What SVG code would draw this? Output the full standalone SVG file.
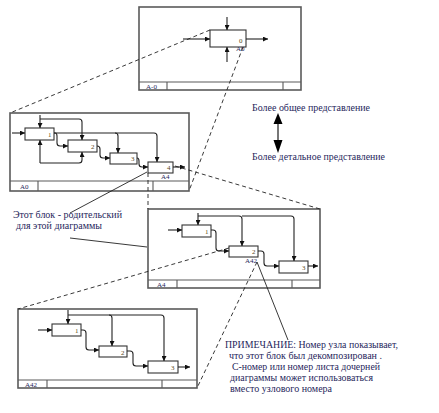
<svg xmlns="http://www.w3.org/2000/svg" width="439" height="413" viewBox="0 0 439 413">
<style>
.frame{fill:none;stroke:#5a5a5a;stroke-width:1.6}
.strip{fill:none;stroke:#5a5a5a;stroke-width:1.1}
.box{fill:#fff;stroke:#333;stroke-width:1.1}
.c{fill:none;stroke:#222;stroke-width:1.1}
.dash{fill:none;stroke:#222;stroke-width:0.9;stroke-dasharray:4 3}
.sol{fill:none;stroke:#222;stroke-width:0.9}
.t{font-family:"Liberation Serif",serif;fill:#1f1f5c}
.num{font-family:"Liberation Serif",serif;font-size:7px;fill:#5a4a20}
.lab{font-family:"Liberation Serif",serif;font-size:7px;fill:#1f1f5c}
</style>
<defs>
<marker id="ah" viewBox="0 0 10 10" refX="10" refY="5" markerWidth="6" markerHeight="5" markerUnits="userSpaceOnUse" orient="auto"><path d="M0,0 L10,5 L0,10 z" fill="#111"/></marker>
</defs>
<rect width="439" height="413" fill="#fff"/>

<g id="frameA-0">
<rect class="frame" x="139" y="7" width="162" height="83"/>
<path class="strip" d="M139,82 H301 M167,82 V90 M283,82 V90"/>
<text class="lab" x="146" y="88.5">A-0</text>
</g>
<g id="nodeA-0-0">
<rect class="box" x="210" y="30" width="36" height="17"/>
<text class="num" x="239" y="43" fill="#b07020">0</text>
<text class="lab" x="236" y="51">A0</text>
</g>

<g id="frameA0">
<rect class="frame" x="10" y="113" width="179" height="78"/>
<path class="strip" d="M10,181 H189 M38,181 V191 M153,181 V191"/>
<text class="lab" x="20" y="189">A0</text>
</g>
<g id="A0-1"><rect class="box" x="25" y="128" width="29" height="12"/><text class="num" x="48" y="137">1</text></g>
<g id="A0-2"><rect class="box" x="68" y="140" width="29" height="12"/><text class="num" x="91" y="149">2</text></g>
<g id="A0-3"><rect class="box" x="110" y="153" width="27" height="11"/><text class="num" x="131" y="161">3</text></g>
<g id="A0-4"><rect class="box" x="148" y="162" width="25" height="11"/><text class="num" x="167" y="170">4</text><text class="lab" x="161" y="179">A4</text></g>

<g id="frameA4">
<rect class="frame" x="148" y="209" width="172" height="79"/>
<path class="strip" d="M148,280 H320 M177,280 V288 M292,280 V288"/>
<text class="lab" x="157" y="286.5">A4</text>
</g>
<g id="A4-1"><rect class="box" x="182" y="225" width="29" height="12"/><text class="num" x="205" y="234">1</text></g>
<g id="A4-2"><rect class="box" x="229" y="246" width="29" height="11"/><text class="num" x="252" y="254">2</text><text class="lab" x="245" y="263">A42</text></g>
<g id="A4-3"><rect class="box" x="279" y="261" width="29" height="12"/><text class="num" x="302" y="270">3</text></g>

<g id="frameA42">
<rect class="frame" x="18" y="309" width="179" height="79"/>
<path class="strip" d="M18,380 H197 M47,380 V388 M162,380 V388"/>
<text class="lab" x="25" y="386.5">A42</text>
</g>
<g id="A42-1"><rect class="box" x="52" y="324" width="29" height="12"/><text class="num" x="75" y="333">1</text></g>
<g id="A42-2"><rect class="box" x="99" y="346" width="28" height="11"/><text class="num" x="121" y="355">2</text></g>
<g id="A42-3"><rect class="box" x="148" y="361" width="30" height="12"/><text class="num" x="171" y="370">3</text></g>

<g id="connectors">
<path class="c" d="M227,17 V30" marker-end="url(#ah)"/>
<path class="c" d="M227,62 V47" marker-end="url(#ah)"/>
<path class="c" d="M183,39 H210" marker-end="url(#ah)"/>
<path class="c" d="M246,39 H268" marker-end="url(#ah)"/>
<path class="c" d="M12,133 H25" marker-end="url(#ah)"/>
<path class="c" d="M40,115 V128" marker-end="url(#ah)"/>
<path class="c" d="M40,119 H79 Q82,119 82,122 V140" marker-end="url(#ah)"/>
<path class="c" d="M54,133 H154 Q157,133 157,136 V162" marker-end="url(#ah)"/>
<path class="c" d="M115,133 Q118,133 118,136 V153" marker-end="url(#ah)"/>
<path class="c" d="M54,133 H55 Q57,133 57,136 V143 Q57,146 60,146 H68" marker-end="url(#ah)"/>
<path class="c" d="M97,146 Q100,146 100,149 V155 Q100,158 103,158 H110" marker-end="url(#ah)"/>
<path class="c" d="M137,158 Q139,158 139,161 V164 Q139,167 142,167 H148" marker-end="url(#ah)"/>
<path class="c" d="M173,167 H185" marker-end="url(#ah)"/>
<path class="c" d="M40,163 H79 Q82,163 82,160 V152" marker-end="url(#ah)"/>
<path class="c" d="M40,163 V140" marker-end="url(#ah)"/>
<path class="c" d="M168,230 H182" marker-end="url(#ah)"/>
<path class="c" d="M198,213 V225" marker-end="url(#ah)"/>
<path class="c" d="M198,216 H239 Q242,216 242,219 V246" marker-end="url(#ah)"/>
<path class="c" d="M242,216 H291 Q294,216 294,219 V261" marker-end="url(#ah)"/>
<path class="c" d="M211,230 H213 Q216,230 216,233 V248 Q216,251 219,251 H229" marker-end="url(#ah)"/>
<path class="c" d="M258,251 H261 Q264,251 264,254 V263 Q264,266 267,266 H279" marker-end="url(#ah)"/>
<path class="c" d="M308,266 H318" marker-end="url(#ah)"/>
<path class="c" d="M38,330 H52" marker-end="url(#ah)"/>
<path class="c" d="M68,310 V324" marker-end="url(#ah)"/>
<path class="c" d="M68,315 H161 Q164,315 164,318 V361" marker-end="url(#ah)"/>
<path class="c" d="M109,315 Q112,315 112,318 V346" marker-end="url(#ah)"/>
<path class="c" d="M81,330 H83 Q86,330 86,333 V347 Q86,350 89,350 H99" marker-end="url(#ah)"/>
<path class="c" d="M127,351 H130 Q133,351 133,354 V363 Q133,366 136,366 H148" marker-end="url(#ah)"/>
<path class="c" d="M178,367 H190" marker-end="url(#ah)"/>
<path class="dash" d="M210,30 L10,113"/>
<path class="dash" d="M243,47 L189,191"/>
<path class="dash" d="M148,173 L148,209"/>
<path class="dash" d="M175,166 L320,209"/>
<path class="dash" d="M229,248 L18,309"/>
<path class="dash" d="M257,262 L197,388"/>
<path class="sol" d="M70,213 L147,172"/>
<path class="sol" d="M70,238 L147,247"/>
<path class="sol" d="M257,262 L288,340"/>
</g>

<g id="legend">
<line x1="278" y1="123" x2="278" y2="141" stroke="#777" stroke-width="2"/>
<polygon points="273.5,124 278,113 282.5,124" fill="#000"/>
<polygon points="273.5,140 278,153 282.5,140" fill="#000"/>
<text class="t" x="252" y="111" font-size="9.5" textLength="118" lengthAdjust="spacingAndGlyphs">Более общее представление</text>
<text class="t" x="252" y="160" font-size="9.5" textLength="133" lengthAdjust="spacingAndGlyphs">Более детальное представление</text>
</g>

<g id="note-parent">
<text class="t" x="13" y="218" font-size="9.5" textLength="109" lengthAdjust="spacingAndGlyphs">Этот блок - родительский</text>
<text class="t" x="16" y="229" font-size="9.5" textLength="86" lengthAdjust="spacingAndGlyphs">для этой диаграммы</text>
</g>

<g id="note-number">
<text class="t" x="225" y="348" font-size="9.5" textLength="173" lengthAdjust="spacingAndGlyphs">ПРИМЕЧАНИЕ: Номер узла показывает,</text>
<text class="t" x="229" y="359" font-size="9.5" textLength="153" lengthAdjust="spacingAndGlyphs">что этот блок был декомпозирован .</text>
<text class="t" x="232" y="370" font-size="9.5" textLength="148" lengthAdjust="spacingAndGlyphs">С-номер или номер листа дочерней</text>
<text class="t" x="230" y="381" font-size="9.5" textLength="143" lengthAdjust="spacingAndGlyphs">диаграммы может использоваться</text>
<text class="t" x="230" y="392" font-size="9.5" textLength="102" lengthAdjust="spacingAndGlyphs">вместо узлового номера</text>
</g>
</svg>
